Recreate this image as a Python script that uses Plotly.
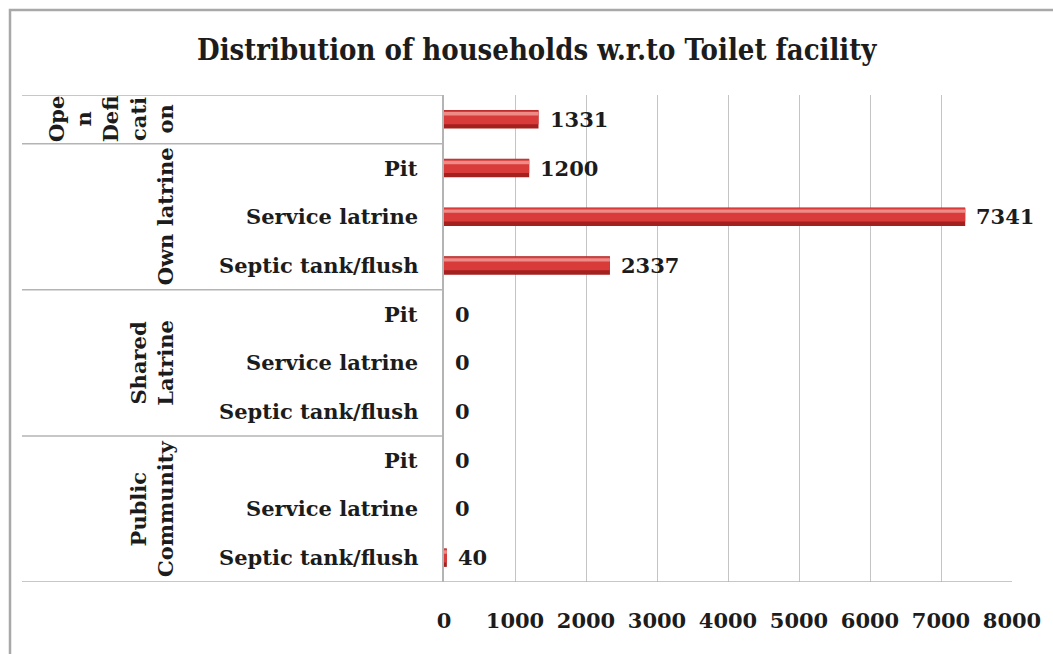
import plotly.graph_objects as go

# Households by toilet facility, grouped by facility type
group_labels = ["Ope<br>n<br>Defi<br>cati<br>on", "Own latrine", "Shared<br>Latrine", "Public<br>Community"]
group_items = [
    [""],
    ["Pit", "Service latrine", "Septic tank/flush"],
    ["Pit", "Service latrine", "Septic tank/flush"],
    ["Pit", "Service latrine", "Septic tank/flush"],
]
group_values = [
    [1331],
    [1200, 7341, 2337],
    [0, 0, 0],
    [0, 0, 40],
]
x_ticks = [0, 1000, 2000, 3000, 4000, 5000, 6000, 7000, 8000]
title_text = "Distribution of households w.r.to Toilet facility"

# Flatten into one row per bar
keys, items, values = [], [], []
for g, (its, vals) in enumerate(zip(group_items, group_values)):
    for it, v in zip(its, vals):
        keys.append(f"{g}|{it}")
        items.append(it)
        values.append(v)

W, H = 1053, 654
L, R, T, B = 444, 1012, 95, 582          # plot area in pixels
PW, PH = R - L, B - T


def px(xp):
    return (xp - L) / PW


def py(yp):
    return (B - yp) / PH


SERIF = "DejaVu Serif"
INK = "#1c1c1c"
FS = 21


def bold_font(size=FS, family=SERIF):
    return dict(family=family, size=size, color=INK, weight="bold")


fig = go.Figure()

# cylinder-like shading: dark base, red body, light highlight
fig.add_trace(go.Bar(y=keys, x=values, orientation="h", width=0.38,
                     marker=dict(color="#a3201f", line=dict(width=0)),
                     hoverinfo="skip"))
fig.add_trace(go.Bar(y=keys, x=values, orientation="h", width=0.28, offset=-0.18,
                     marker=dict(color="#d93a3a", line=dict(width=0)),
                     hoverinfo="skip"))
fig.add_trace(go.Bar(y=keys, x=values, orientation="h", width=0.07, offset=-0.15,
                     marker=dict(color="#ee8b86", line=dict(width=0)),
                     hoverinfo="skip"))

ann = []
shapes = []

# value labels
for i, v in enumerate(values):
    ann.append(dict(x=v, y=i, xref="x", yref="y", text=str(v),
                    showarrow=False, xanchor="left", xshift=9,
                    font=bold_font()))

# item labels
for i, it in enumerate(items):
    if it:
        ann.append(dict(x=px(420), y=i, xref="paper", yref="y", text=it,
                        showarrow=False, xanchor="right",
                        font=bold_font()))

# group labels and separators
start = 0
bounds = [-0.5]
for g, its in enumerate(group_items):
    n = len(its)
    mid = start + (n - 1) / 2
    ann.append(dict(x=px(180), y=mid, xref="paper", yref="y",
                    text=group_labels[g], textangle=-90,
                    showarrow=False, xanchor="right", yanchor="middle",
                    font=bold_font()))
    start += n
    bounds.append(start - 0.5)

for b in bounds[:-1]:
    shapes.append(dict(type="line", xref="paper", yref="y", x0=px(22), x1=0,
                       y0=b, y1=b, line=dict(color="#b4b4b4", width=1.5)))
shapes.append(dict(type="line", xref="paper", yref="y", x0=px(22), x1=1,
                   y0=bounds[-1], y1=bounds[-1], line=dict(color="#b4b4b4", width=1.5)))

# outer frame
shapes.append(dict(type="rect", xref="paper", yref="paper",
                   x0=px(10), x1=px(1070), y0=py(670), y1=py(10),
                   line=dict(color="#a8a8a8", width=2.5), layer="below"))

ann.append(dict(x=px(537), y=py(50), xref="paper", yref="paper",
                text=title_text, showarrow=False,
                xanchor="center", yanchor="middle",
                font=bold_font(29, "DejaVu Serif Condensed")))

fig.update_layout(
    width=W, height=H,
    margin=dict(l=L, r=W - R, t=T, b=H - B, pad=0),
    paper_bgcolor="white", plot_bgcolor="white",
    barmode="overlay", showlegend=False,
    annotations=ann, shapes=shapes,
    xaxis=dict(range=[0, 8000], tickvals=x_ticks, showgrid=True,
               gridcolor="#c4c4c4", gridwidth=1, zeroline=False,
               showline=False, ticks="", ticklabelstandoff=24,
               tickfont=bold_font(), fixedrange=True),
    yaxis=dict(type="category", categoryorder="array", categoryarray=keys,
               range=[len(keys) - 0.5, -0.5], showticklabels=False,
               showgrid=False, zeroline=False, showline=True,
               linecolor="#b4b4b4", linewidth=1.5, ticks="", fixedrange=True),
)

fig.write_html("out.html")
